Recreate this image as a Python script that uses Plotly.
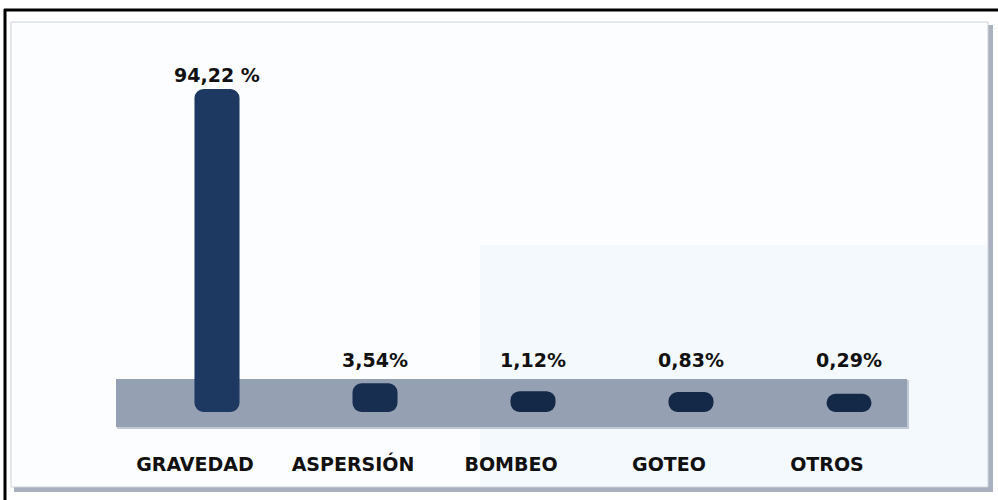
import plotly.graph_objects as go

# ---------------- data ----------------
categories = ["GRAVEDAD", "ASPERSIÓN", "BOMBEO", "GOTEO", "OTROS"]
values = [94.22, 3.54, 1.12, 0.83, 0.29]
value_labels = ["94,22 %", "3,54%", "1,12%", "0,83%", "0,29%"]
bar_colors = ["#1D3961", "#172E51", "#142947", "#142947", "#142947"]

# ---------------- geometry ----------------
W, H = 998, 500
MB = 50                      # bottom margin (room for category labels)
PH = H - MB                  # plot-area height in px
DEPTH = 5.3                  # cylinders reach below zero into the 3-D floor
BAR_BOTTOM_PX = 412          # where the cylinder bottoms sit on the floor
BAR_TOP_PX = 89              # top of the tallest cylinder
S = (BAR_BOTTOM_PX - BAR_TOP_PX) / (max(values) + DEPTH)   # px per unit
YMIN = -DEPTH - (PH - BAR_BOTTOM_PX) / S
YMAX = YMIN + PH / S
LABEL_MIN = 6.4              # lowest level for value labels (above the floor)
BAR_W = 0.285

def px_x(p):
    return p / W

def px_y(p):
    return (PH - p) / PH

fig = go.Figure()

# floating cylinders: with a base set, plotly rounds both ends
fig.add_trace(go.Bar(
    x=categories,
    y=[v + DEPTH for v in values],
    base=-DEPTH,
    width=BAR_W,
    marker=dict(color=bar_colors, cornerradius=9, line=dict(width=0)),
    hoverinfo="skip",
))

annotations = []
for c, v, t in zip(categories, values, value_labels):
    annotations.append(dict(
        x=c, y=max(v, LABEL_MIN), xref="x", yref="y",
        text=t, showarrow=False, yanchor="bottom", yshift=1,
        font=dict(family="DejaVu Sans", size=19, color="#111111", weight="bold"),
    ))

shapes = [
    # panel shadow
    dict(type="rect", xref="paper", yref="paper", layer="below",
         x0=px_x(14), x1=px_x(993), y0=px_y(25), y1=px_y(492),
         fillcolor="#A9B1BF", line=dict(width=0)),
    # panel
    dict(type="rect", xref="paper", yref="paper", layer="below",
         x0=px_x(11), x1=px_x(988), y0=px_y(22), y1=px_y(487),
         fillcolor="#FCFDFF", line=dict(color="#CDD2D9", width=1)),
    # faint tinted area
    dict(type="rect", xref="paper", yref="paper", layer="below",
         x0=px_x(480), x1=px_x(987), y0=px_y(245), y1=px_y(486),
         fillcolor="#F4F9FE", line=dict(width=0)),
    # floor shadow
    dict(type="rect", xref="paper", yref="paper", layer="below",
         x0=px_x(117), x1=px_x(909), y0=px_y(380), y1=px_y(429),
         fillcolor="#C3C9D2", line=dict(width=0)),
    # floor
    dict(type="rect", xref="paper", yref="paper", layer="below",
         x0=px_x(116), x1=px_x(907), y0=px_y(379), y1=px_y(427),
         fillcolor="#95A1B3", line=dict(width=0)),
    # black outer frame lines
    dict(type="line", xref="paper", yref="paper", layer="below",
         x0=px_x(4), x1=px_x(998), y0=px_y(10), y1=px_y(10),
         line=dict(color="#000000", width=3)),
    dict(type="line", xref="paper", yref="paper", layer="below",
         x0=px_x(5), x1=px_x(5), y0=px_y(9), y1=px_y(500),
         line=dict(color="#000000", width=3)),
]

fig.update_layout(
    width=W, height=H,
    margin=dict(l=0, r=0, t=0, b=MB),
    paper_bgcolor="#FFFFFF",
    plot_bgcolor="rgba(0,0,0,0)",
    barmode="overlay",
    showlegend=False,
    hovermode=False,
    annotations=annotations,
    shapes=shapes,
    xaxis=dict(
        range=[-217 / 158, (W - 217) / 158],
        showgrid=False, zeroline=False, showline=False, ticks="",
        tickfont=dict(family="DejaVu Sans", size=19, color="#111111", weight="bold"),
        ticklabelshift=-22, ticklabelstandoff=1,
        fixedrange=True,
    ),
    yaxis=dict(range=[YMIN, YMAX], visible=False, fixedrange=True),
)

fig.write_html("out.html", config={"displayModeBar": False},
               post_script="document.body.style.margin='0';")
